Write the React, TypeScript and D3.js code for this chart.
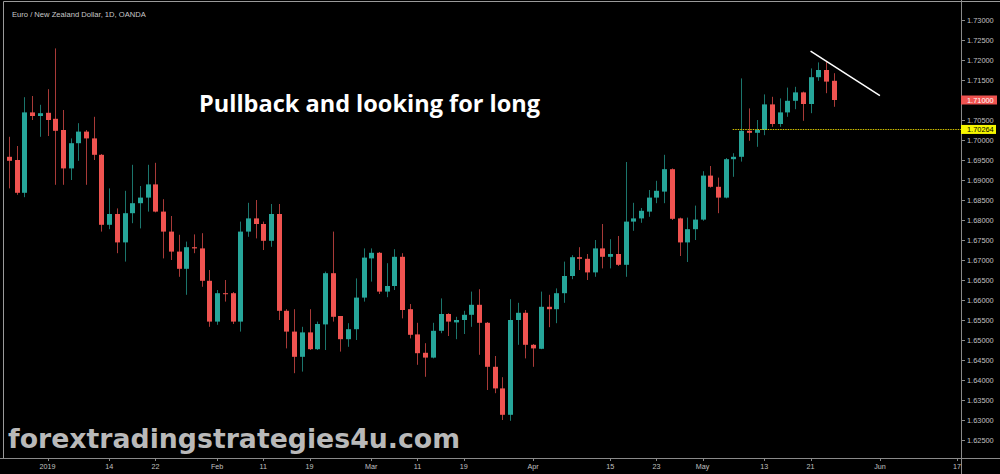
import React from 'react';
import * as d3 from 'd3';

// EUR/NZD daily, Dec 24 2018 - May 24 2019
const openP = [
  1.6958, 1.6950, 1.6868, 1.7069, 1.7060, 1.7068, 1.7053, 1.7025, 1.6929, 1.6992,
  1.7021, 1.7004, 1.6963, 1.6788, 1.6815, 1.6744, 1.6817, 1.6842, 1.6856, 1.6889,
  1.6821, 1.6771, 1.6721, 1.6678, 1.6732, 1.6729, 1.6648, 1.6546, 1.6617, 1.6617,
  1.6546, 1.6771, 1.6804, 1.6790, 1.6748, 1.6815, 1.6573, 1.6521, 1.6458, 1.6519,
  1.6477, 1.6539, 1.6667, 1.6560, 1.6502, 1.6527, 1.6606, 1.6704, 1.6718, 1.6621,
  1.6635, 1.6708, 1.6577, 1.6514, 1.6468, 1.6456, 1.6523, 1.6565, 1.6544, 1.6550,
  1.6563, 1.6588, 1.6543, 1.6433, 1.6379, 1.6313, 1.6550, 1.6568, 1.6488, 1.6478,
  1.6583, 1.6577, 1.6617, 1.6660, 1.6707, 1.6703, 1.6669, 1.6729, 1.6708, 1.6715,
  1.6688, 1.6796, 1.6804, 1.6821, 1.6856, 1.6871, 1.6927, 1.6804, 1.6744, 1.6777,
  1.6801, 1.6911, 1.6883, 1.6856, 1.6952, 1.6958, 1.7023, 1.7018, 1.7025, 1.7089,
  1.7040, 1.7069, 1.7098, 1.7119, 1.7090, 1.7157, 1.7175, 1.7148,
];
const highP = [
  1.7008, 1.6985, 1.7107, 1.7110, 1.7088, 1.7127, 1.7229, 1.7075, 1.7004, 1.7042,
  1.7025, 1.7058, 1.6965, 1.6879, 1.6829, 1.6873, 1.6938, 1.6885, 1.6938, 1.6943,
  1.6852, 1.6810, 1.6763, 1.6746, 1.6764, 1.6767, 1.6675, 1.6625, 1.6650, 1.6620,
  1.6796, 1.6843, 1.6850, 1.6796, 1.6840, 1.6840, 1.6577, 1.6577, 1.6533, 1.6577,
  1.6546, 1.6671, 1.6771, 1.6560, 1.6542, 1.6654, 1.6729, 1.6729, 1.6720, 1.6692,
  1.6727, 1.6717, 1.6590, 1.6543, 1.6492, 1.6543, 1.6604, 1.6567, 1.6558, 1.6573,
  1.6621, 1.6627, 1.6545, 1.6460, 1.6407, 1.6602, 1.6593, 1.6575, 1.6490, 1.6621,
  1.6613, 1.6629, 1.6696, 1.6712, 1.6732, 1.6715, 1.6750, 1.6790, 1.6752, 1.6760,
  1.6945, 1.6843, 1.6830, 1.6875, 1.6898, 1.6963, 1.6929, 1.6806, 1.6806, 1.6836,
  1.6922, 1.6935, 1.6906, 1.6955, 1.6967, 1.7154, 1.7079, 1.7050, 1.7114, 1.7108,
  1.7104, 1.7131, 1.7133, 1.7121, 1.7179, 1.7194, 1.7196, 1.7167,
];
const lowP = [
  1.6879, 1.6863, 1.6857, 1.7050, 1.7008, 1.7010, 1.6888, 1.6888, 1.6900, 1.6948,
  1.6888, 1.6950, 1.6771, 1.6777, 1.6717, 1.6696, 1.6792, 1.6779, 1.6821, 1.6819,
  1.6704, 1.6700, 1.6658, 1.6613, 1.6717, 1.6633, 1.6533, 1.6538, 1.6596, 1.6540,
  1.6521, 1.6758, 1.6754, 1.6725, 1.6733, 1.6550, 1.6479, 1.6417, 1.6421, 1.6475,
  1.6475, 1.6475, 1.6546, 1.6471, 1.6483, 1.6500, 1.6596, 1.6646, 1.6615, 1.6607,
  1.6625, 1.6554, 1.6504, 1.6438, 1.6408, 1.6454, 1.6517, 1.6510, 1.6502, 1.6515,
  1.6533, 1.6463, 1.6375, 1.6367, 1.6300, 1.6298, 1.6488, 1.6454, 1.6433, 1.6477,
  1.6532, 1.6542, 1.6593, 1.6652, 1.6675, 1.6650, 1.6658, 1.6679, 1.6679, 1.6685,
  1.6658, 1.6773, 1.6793, 1.6808, 1.6842, 1.6842, 1.6800, 1.6710, 1.6695, 1.6750,
  1.6798, 1.6881, 1.6817, 1.6854, 1.6908, 1.6946, 1.6998, 1.6983, 1.7012, 1.7033,
  1.7033, 1.7058, 1.7077, 1.7048, 1.7067, 1.7148, 1.7117, 1.7083,
];
const closeP = [
  1.6948, 1.6868, 1.7069, 1.7060, 1.7067, 1.7050, 1.7023, 1.6929, 1.6992, 1.7021,
  1.7004, 1.6963, 1.6788, 1.6815, 1.6744, 1.6817, 1.6842, 1.6856, 1.6889, 1.6821,
  1.6771, 1.6721, 1.6678, 1.6732, 1.6729, 1.6648, 1.6546, 1.6617, 1.6615, 1.6546,
  1.6771, 1.6804, 1.6790, 1.6748, 1.6815, 1.6573, 1.6521, 1.6458, 1.6519, 1.6477,
  1.6540, 1.6667, 1.6558, 1.6502, 1.6527, 1.6606, 1.6706, 1.6718, 1.6621, 1.6635,
  1.6708, 1.6575, 1.6513, 1.6467, 1.6456, 1.6523, 1.6565, 1.6546, 1.6550, 1.6563,
  1.6588, 1.6543, 1.6433, 1.6379, 1.6313, 1.6550, 1.6568, 1.6488, 1.6479, 1.6583,
  1.6577, 1.6617, 1.6660, 1.6707, 1.6703, 1.6669, 1.6729, 1.6708, 1.6715, 1.6688,
  1.6796, 1.6804, 1.6823, 1.6856, 1.6873, 1.6927, 1.6803, 1.6744, 1.6777, 1.6801,
  1.6911, 1.6883, 1.6856, 1.6952, 1.6958, 1.7023, 1.7018, 1.7025, 1.7089, 1.7040,
  1.7069, 1.7098, 1.7119, 1.7090, 1.7157, 1.7175, 1.7146, 1.7100,
];

const xTickLabels = ['2019', '14', '22', 'Feb', '11', '19', 'Mar', '11', '19', 'Apr', '15', '23', 'May', '13', '21', 'Jun', '17'];
const xTickDates = [
  '2019-01-02', '2019-01-14', '2019-01-22', '2019-02-01', '2019-02-11', '2019-02-19',
  '2019-03-01', '2019-03-11', '2019-03-19', '2019-04-01', '2019-04-15', '2019-04-23',
  '2019-05-01', '2019-05-13', '2019-05-21', '2019-06-03', '2019-06-17',
];
const holidays = ['2018-12-25', '2019-01-01'];

const levelPrice = 1.70264;
const levelFrom = '2019-05-07';
const lastPrice = 1.71;
// trend line: [bar index, price]
const trendLine: [number, number][] = [[104, 1.7222], [113, 1.7111]];

const fmt = d3.utcFormat('%Y-%m-%d');
const calendar = d3.utcDay
  .range(new Date(Date.UTC(2018, 11, 24)), new Date(Date.UTC(2019, 5, 18)))
  .filter(d => d.getUTCDay() !== 0 && d.getUTCDay() !== 6 && !holidays.includes(fmt(d)))
  .map(fmt);

const W = 1000;
const H = 474;
const axisX = 961;
const axisY = 458;

const up = '#26a69a';
const down = '#ef5350';
const axisFont = '"Liberation Sans", Arial, sans-serif';

export default function App() {
  const x = d3.scaleLinear().domain([0, calendar.length - 1]).range([9, 957]);
  const y = d3.scaleLinear().domain([1.625, 1.73]).range([440, 20]);
  const bodyW = 5;

  const candles = openP.map((o, i) => ({ o, h: highP[i], l: lowP[i], c: closeP[i], i }));
  const priceTicks = y.ticks(20);

  const trend = d3.line<[number, number]>().x(d => x(d[0])).y(d => y(d[1]));

  const levelStart = calendar.indexOf(levelFrom) - 0.1;
  const levelY = Math.round(y(levelPrice)) + 0.5;

  return (
    <div style={{ position: 'fixed', left: 0, top: 0, width: W, height: H }}>
      <svg width={W} height={H} style={{ display: 'block', background: '#000' }}>
        <rect x={0} y={0} width={W} height={H} fill="#000" />
        {/* chart frame */}
        <line x1={3.5} y1={1.5} x2={W} y2={1.5} stroke="#9a9a9a" strokeWidth={1} />
        <line x1={3.5} y1={1.5} x2={3.5} y2={axisY} stroke="#9a9a9a" strokeWidth={1} />
        <line x1={axisX + 0.5} y1={0} x2={axisX + 0.5} y2={H} stroke="#8a8a8a" strokeWidth={1} />
        <line x1={0} y1={axisY + 0.5} x2={W} y2={axisY + 0.5} stroke="#8a8a8a" strokeWidth={1} />

        <text x={12} y={17} fill="#c8c8c8" fontSize={7.6} fontFamily={axisFont}>
          Euro / New Zealand Dollar, 1D, OANDA
        </text>

        {/* candles */}
        {candles.map(d => {
          const cx = Math.round(x(d.i));
          const col = d.c >= d.o ? up : down;
          const top = y(Math.max(d.o, d.c));
          const bot = y(Math.min(d.o, d.c));
          return (
            <g key={d.i}>
              <line x1={cx + 0.5} x2={cx + 0.5} y1={y(d.h)} y2={y(d.l)} stroke={col} strokeOpacity={0.7} strokeWidth={1} />
              <rect x={cx + 0.5 - bodyW / 2} y={top} width={bodyW} height={Math.max(1, bot - top)} fill={col} />
            </g>
          );
        })}

        {/* level line */}
        <line
          x1={x(levelStart)} x2={axisX} y1={levelY} y2={levelY}
          stroke="#d2c200" strokeWidth={1.2} strokeDasharray="1.5,1"
        />

        {/* trend line */}
        <path d={trend(trendLine) || ''} stroke="#ffffff" strokeWidth={1.5} fill="none" />

        {/* price axis */}
        {priceTicks.map(p => (
          <g key={p}>
            <line x1={axisX} x2={axisX + 4} y1={Math.round(y(p)) + 0.5} y2={Math.round(y(p)) + 0.5} stroke="#8a8a8a" />
            <text x={axisX + 6} y={y(p)} dy="0.35em" fill="#c0c0c0" fontSize={7.4} fontFamily={axisFont}>
              {p.toFixed(5)}
            </text>
          </g>
        ))}
        <rect x={axisX} y={y(lastPrice) - 4.5} width={36} height={9} fill={down} />
        <text x={axisX + 6} y={y(lastPrice)} dy="0.35em" fill="#ffffff" fontSize={7.4} fontFamily={axisFont}>
          {lastPrice.toFixed(5)}
        </text>
        <rect x={axisX} y={y(levelPrice) - 4.5} width={35} height={9} fill="#f5f500" />
        <text x={axisX + 6} y={y(levelPrice)} dy="0.35em" fill="#000" fontSize={7.4} fontFamily={axisFont}>
          {levelPrice.toFixed(5)}
        </text>

        {/* time axis */}
        {xTickLabels.map((t, k) => {
          const xi = x(calendar.indexOf(xTickDates[k]));
          return (
            <g key={k}>
              <line x1={Math.round(xi) + 0.5} x2={Math.round(xi) + 0.5} y1={axisY} y2={axisY + 3} stroke="#8a8a8a" />
              <text x={xi} y={468} dy="0.1em" textAnchor="middle" fill="#c0c0c0" fontSize={7.2} fontFamily={axisFont}>
                {t}
              </text>
            </g>
          );
        })}

        {/* annotations */}
        <text x={199} y={112} fill="#ffffff" fontSize={23.4} fontWeight="bold" fontFamily='"Open Sans", sans-serif'
          textLength={341} lengthAdjust="spacingAndGlyphs">
          Pullback and looking for long
        </text>
        <text x={8} y={448} fill="#b9b9b9" fontSize={26.8} fontWeight="bold" fontFamily='"DejaVu Sans", sans-serif'
          textLength={452} lengthAdjust="spacingAndGlyphs">
          forextradingstrategies4u.com
        </text>
      </svg>
    </div>
  );
}
